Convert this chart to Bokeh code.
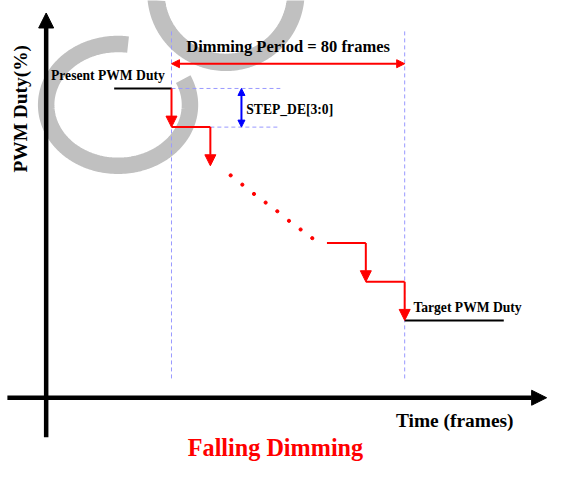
import numpy as np
from bokeh.plotting import figure
from bokeh.models import Range1d, Arrow, NormalHead, ColumnDataSource
from bokeh.core.properties import value
from bokeh.embed import file_html
from bokeh.resources import INLINE

# ---------------- data (frames / duty %) ----------------
dimming_period = 80                      # frames
present_duty = 100.0
target_duty = 25.0
present_start = -19.67                   # frame where "present" level line starts
target_end = 114.0                       # frame where "target" level line ends

drop_frames = [0.0, 13.33, 66.67, 80.0]  # frames of the drawn duty drops
drop_from = [100.0, 87.5, 50.0, 37.5]
drop_to = [87.5, 75.0, 37.5, 25.0]

hold_start = [0.0, 53.33, 66.67]         # drawn hold segments
hold_end = [13.33, 66.67, 80.0]
hold_duty = [87.5, 50.0, 37.5]

dot_frames = [20.3, 24.3, 28.3, 32.3, 36.3, 40.3, 44.3, 48.3]
dot_duty = [71.9, 68.9, 65.9, 63.1, 60.3, 57.2, 54.4, 51.6]

step_frame = 24.0                        # STEP_DE marker position
guide_end = 37.33                        # end of dashed guide lines
axis_frame = -43.0                       # vertical (duty) axis position
axis_time_start, axis_time_end = -56.3, 128.7
axis_duty_start, axis_duty_end = -12.8, 124.4
period_duty = 108.0                      # height of "Dimming Period" arrow
vline_bottom, vline_top = 6.25, 119.0

# ---------------- figure ----------------
SX, SY = 3.0, 3.2          # reference px per frame, px per duty %
X0, Y0 = 176.0, 411.0      # reference pixel of (frame 0, duty 0)
W, H = 547, 462
REF_W, REF_H = 563, 478
K = (W / REF_W + H / REF_H) / 2

def fx(px):
    return (px - X0) / SX

def fy(py):
    return (Y0 - py) / SY

p = figure(width=W, height=H, output_backend="svg", toolbar_location=None,
           x_range=Range1d(fx(0), fx(REF_W)), y_range=Range1d(fy(REF_H), fy(0)),
           x_axis_type=None, y_axis_type=None, min_border=0,
           outline_line_color=None, background_fill_color="white")
p.grid.visible = False

GREY = "#c0c0c0"
# watermark loops
t1 = np.radians(np.linspace(82, 385, 200))
wx1 = fx(121 + 74 * np.cos(t1))
wy1 = fy(108 - 63 * np.sin(t1))
p.line(wx1, wy1, line_width=17 * K, line_color=GREY)
t2 = np.radians(np.linspace(0, 360, 240))
wx2 = fx(232 + 72 * np.cos(t2))
wy2 = fy(-8 - 72 * np.sin(t2))
p.line(wx2, wy2, line_width=18 * K, line_color=GREY)

# dashed guides
LB = "#9999ff"
p.segment(x0=[0, dimming_period], y0=[vline_bottom] * 2,
          x1=[0, dimming_period], y1=[vline_top] * 2,
          line_color=LB, line_width=1, line_dash="4 3")
p.segment(x0=[0, drop_frames[1]], y0=[present_duty, drop_to[0]],
          x1=[guide_end, guide_end], y1=[present_duty, drop_to[0]],
          line_color=LB, line_width=1, line_dash="4 3")

# level lines
p.segment(x0=[present_start, dimming_period], y0=[present_duty, target_duty],
          x1=[0, target_end], y1=[present_duty, target_duty],
          line_color="black", line_width=2)

# hold segments
p.segment(x0=hold_start, y0=hold_duty, x1=hold_end, y1=hold_duty,
          line_color="red", line_width=2)

# dots
p.scatter(dot_frames, dot_duty, size=3.2, color="red")

# drops with arrowheads
drops = ColumnDataSource(dict(x0=drop_frames, y0=drop_from, x1=drop_frames, y1=drop_to))
p.add_layout(Arrow(source=drops, x_start="x0", y_start="y0", x_end="x1", y_end="y1",
                   line_color="red", line_width=2,
                   end=NormalHead(size=11, fill_color="red", line_color="red", line_width=1)))

# dimming period arrow
p.add_layout(Arrow(x_start=0, y_start=period_duty, x_end=dimming_period, y_end=period_duty,
                   line_color="red", line_width=2,
                   start=NormalHead(size=8, fill_color="red", line_color="red", line_width=1),
                   end=NormalHead(size=8, fill_color="red", line_color="red", line_width=1)))

# step arrow
p.add_layout(Arrow(x_start=step_frame, y_start=present_duty, x_end=step_frame, y_end=drop_to[0],
                   line_color="blue", line_width=2,
                   start=NormalHead(size=7, fill_color="blue", line_color="blue", line_width=1),
                   end=NormalHead(size=7, fill_color="blue", line_color="blue", line_width=1)))

# axes
p.add_layout(Arrow(x_start=axis_frame, y_start=axis_duty_start, x_end=axis_frame, y_end=axis_duty_end,
                   line_color="black", line_width=4.5,
                   end=NormalHead(size=15, fill_color="black", line_color="black", line_width=1)))
p.add_layout(Arrow(x_start=axis_time_start, y_start=0, x_end=axis_time_end, y_end=0,
                   line_color="black", line_width=4.5,
                   end=NormalHead(size=15, fill_color="black", line_color="black", line_width=1)))

FONT = value("Liberation Serif")

def label(px, py, txt, size, color="black", align="left", angle=0.0):
    # px, py: reference-pixel anchor of the text baseline
    if angle:
        px = px - 0.4 * size
    else:
        py = py - 0.32 * size
    p.text(x=[fx(px)], y=[fy(py)], text=[txt], text_font=FONT, text_font_style="bold",
           text_font_size="%.1fpx" % (size * K), text_color=color, text_align=align,
           text_baseline="alphabetic", angle=angle)

label(X0 + SX * dimming_period / 2, 53, "Dimming Period = 80 frames", 17, align="center")
label(52, 82, "Present PWM Duty", 14)
label(253, 117, "STEP_DE[3:0]", 14)
label(425, 322, "Target PWM Duty", 14)
label(407, 441, "Time (frames)", 20)
label(283, 470, "Falling Dimming", 25, color="red", align="center")
label(29, 112, "PWM Duty(%)", 20, align="center", angle=np.pi / 2)

open("out.html", "w").write(file_html(p, INLINE))
